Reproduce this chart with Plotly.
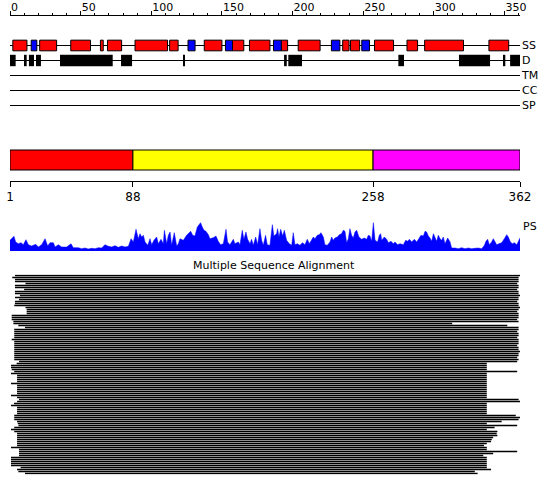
import plotly.graph_objects as go

W, H = 550, 495
def py(y):
    return 1 - y / H

# ---------------- data ----------------
seq_len = 362
ruler_vals = [1, 51, 101, 151, 201, 251, 301, 351]
ruler_text = ["0", "50", "100", "150", "200", "250", "300", "350"]

tracks = ["SS", "D", "TM", "CC", "SP"]

helix_start = [3, 22, 44, 65, 70, 89.5, 114, 138.5, 158.5, 170.5, 193, 205, 236.5, 242, 259, 282, 294.5, 340]
helix_end = [13, 34, 58, 67, 80, 112.5, 120, 151, 166.5, 185, 197.5, 220.5, 241, 248.5, 272.5, 289.5, 322, 354]
strand_start = [16, 127, 153.5, 187.5, 228.5, 250]
strand_end = [20, 132, 158.5, 193, 234.5, 255.5]

dis_start = [1, 11.6, 14.4, 19.4, 36.4, 79.6, 123.5, 195, 198, 275.9, 318.8, 350.2, 355]
dis_end = [5, 12.8, 18, 22.9, 73.7, 87.4, 124.7, 196.9, 207.7, 279.9, 340.8, 351.6, 362]

dom_bounds = [1, 88, 258, 362]
dom_colors = ["#ff0000", "#ffff00", "#ff00ff"]

ps_res = [1.0, 2.2, 3.8, 5.0, 6.9, 8.8, 10.4, 12.3, 14.0, 16.3, 19.2, 21.1, 23.4, 25.8, 27.7, 29.3, 31.7, 32.9, 35.2, 37.6,
          41.1, 44.2, 45.8, 49.4, 51.7, 54.1, 56.4, 58.8, 61.2, 63.5, 65.9, 68.2, 70.6, 73.0, 75.3, 77.7, 80.0, 82.4, 84.8, 86.7,
          88.3, 90.2, 91.8, 93.0, 94.2, 95.4, 96.6, 98.5, 100.1, 101.3, 102.9, 104.8, 106.0, 107.9, 109.5, 110.3, 111.9, 113.1,
          114.3, 115.4, 117.3, 119.0, 120.2,
          121.3, 123.7, 126.0, 127.9, 128.9, 130.3, 131.9, 133.6, 135.0, 135.9, 137.1, 138.3, 139.7, 141.4, 142.5, 144.9, 146.8,
          148.4, 150.1, 152.0, 153.9, 155.0, 156.7, 157.9, 159.1, 160.2, 162.6, 163.8, 165.4, 166.6, 168.0, 169.2, 170.9, 172.0,
          173.2, 174.9, 176.3, 177.9, 179.1, 180.3, 181.9, 183.1, 185.0, 186.7, 187.8, 189.7, 190.4, 191.4, 192.6, 194.0, 195.2,
          196.8, 198.7, 200.4, 201.5, 202.7, 204.4, 206.2, 208.1, 209.8, 211.4, 212.9, 214.5, 215.7, 216.9, 218.5, 219.9, 221.1,
          222.8, 223.9, 225.6, 227.5, 228.7, 229.8, 231.0, 232.7, 234.1, 235.7, 236.9, 238.1, 239.3, 240.5, 241.6, 242.8, 244.0,
          245.2, 246.4, 248.0, 249.9, 251.8, 253.5, 254.6, 255.8, 257.0, 258.2, 259.4, 261.2, 262.4, 263.4, 264.1, 266.0, 267.6,
          268.8, 270.7, 272.3, 273.5, 275.4, 277.1, 279.4, 281.1, 282.5, 283.7, 285.3, 287.2, 288.9, 290.5, 291.9, 293.6, 294.8,
          295.9, 297.1, 298.3, 299.5, 300.7, 301.8, 303.0, 304.2, 305.4, 306.6, 307.7, 308.9, 310.8, 312.5, 313.6, 316.0, 318.3,
          320.7, 323.1, 325.4, 327.8, 330.1, 332.5, 334.9, 336.8, 337.9, 339.1, 340.3, 341.9, 343.1, 344.3, 345.5, 347.1, 349.0,
          350.9, 352.6, 353.7, 355.2, 356.6, 358.0, 359.7, 361.3, 362.0]
ps_val = [10.7, 12.3, 14.7, 9, 7.3, 8.3, 6.3, 11.3, 6.3, 5, 6.7, 4, 6.3, 12.3, 5, 8.3, 8.3, 4, 6.3, 4,
          4, 7.3, 3.3, 3.3, 2.3, 3, 2, 2.7, 2.3, 3.3, 3, 6.3, 4.7, 4, 5.3, 3.7, 5, 4, 4.7, 12.3,
          9, 21.7, 12.3, 17.3, 14, 15.7, 9, 5.7, 12.3, 6.3, 10.7, 14, 7.3, 11.7, 7.3, 20.7, 7.3, 15.7,
          19, 5.7, 18.3, 5, 7.3,
          12.3, 10.7, 15.7, 18.3, 19.7, 15.7, 15, 24, 26.3, 28.3, 24, 20.7, 19.7, 16.3, 12.3, 13.3, 15,
          9.7, 6.3, 7.3, 21.7, 9, 6.3, 9.7, 11.7, 7.3, 9, 6.3, 20.7, 11.7, 19, 11.7, 7.3, 11.7,
          5.7, 14, 6.3, 22.3, 10.7, 5.7, 15.7, 6.3, 5.7, 26.3, 15, 17.3, 22.3, 14, 21.7, 15, 20.7,
          10.7, 7.3, 5.7, 18.3, 6.3, 7.3, 5.7, 8.3, 6.3, 11.7, 7.3, 10.7, 14, 12.3, 15.7, 16.3, 18.3,
          14, 6.3, 5.7, 9, 14, 10.7, 13, 14, 16.3, 17.3, 20.7, 19.7, 8.3, 12.3, 22.3, 15.7, 13,
          19, 20.7, 14, 11.7, 13, 11.7, 15.7, 15, 9.7, 28.3, 10.7, 9, 15.7, 17.3, 10.7, 14, 11.7,
          8.3, 9.7, 7.3, 9, 6.3, 7.3, 6.3, 10.7, 9.7, 11.7, 9, 11.7, 9, 13, 15.7, 15, 19.7,
          19, 15, 13, 9.7, 17.3, 14, 9.7, 15.7, 12.3, 10.7, 14, 7.3, 13, 9, 3, 3, 2.3,
          3.3, 2.3, 3, 2.3, 2.7, 3, 2.3, 5.7, 9.7, 11.7, 6.3, 9, 12.3, 9.7, 6.3, 7.3, 8.3,
          12.3, 16.3, 14, 9, 7.3, 8.3, 6.3, 12.3, 13]

aln_start = [4.5, 2.6, 4.5, 4.5, 12, 4.5, 4.5, 11, 4.5, 4.5,
             8, 4.5, 7.4, 4.5, 4.5, 4, 12, 12.8, 12.8, 12.8,
             2.2, 2.2, 2.2, 3.4, 3.4, 6.9, 11.6, 4, 4, 4,
             4, 4, 2.2, 4, 4, 4, 4, 4, 4, 4,
             4, 4, 4, 7.4, 5.7, 1.7, 1.7, 2.2, 4, 1.7,
             6, 6, 6, 6, 1.7, 6, 6, 6, 6, 6,
             1.7, 6, 7.4, 6, 3.8, 1.7, 6, 6, 6, 6,
             4, 4, 4, 6, 6.5, 7, 4, 1.7, 4, 6,
             6, 6, 6, 6, 6, 6, 1.7, 7.4, 7.4, 7.4,
             7.4, 1.7, 1.7, 1.7, 1.7, 1.7, 8.5, 6, 6.9, 11.6]
aln_end = [362, 361, 361, 361, 360, 361, 361, 360, 361, 361,
           362, 361, 361, 360, 361, 361, 362, 361, 360, 361,
           361, 361, 360, 361, 314, 353, 361, 361, 360, 361,
           361, 360, 361, 361, 361, 360, 361, 361, 362, 361,
           361, 360, 361, 360, 338.5, 338.5, 338.5, 338.5, 360, 338.5,
           338.5, 338.5, 338.5, 338.5, 338.5, 338.5, 338.5, 338.5, 338.5, 338.5,
           338.5, 338.5, 361, 362, 338.5, 338.5, 338.5, 338.5, 338.5, 338.5,
           359, 362, 361, 349, 338.5, 360, 344, 338.5, 346, 345.5,
           346, 343, 342, 341.5, 338.5, 336.5, 338.5, 338.5, 360, 343,
           336, 338.5, 338.5, 338.5, 338.5, 338.5, 338.5, 341.5, 330, 332]

# ---------------- figure ----------------
fig = go.Figure()
ss_i = tracks.index("SS")
d_i = tracks.index("D")

fig.add_trace(go.Bar(orientation="h", y=[ss_i] * len(helix_start), base=helix_start,
                     x=[e - s for s, e in zip(helix_start, helix_end)], width=0.71,
                     marker=dict(color="#ff0000", line=dict(color="black", width=1)),
                     xaxis="x", yaxis="y", hoverinfo="skip"))
fig.add_trace(go.Bar(orientation="h", y=[ss_i] * len(strand_start), base=strand_start,
                     x=[e - s for s, e in zip(strand_start, strand_end)], width=0.71,
                     marker=dict(color="#0000ff", line=dict(color="black", width=1)),
                     xaxis="x", yaxis="y", hoverinfo="skip"))
fig.add_trace(go.Bar(orientation="h", y=[d_i] * len(dis_start), base=dis_start,
                     x=[e - s for s, e in zip(dis_start, dis_end)], width=0.76,
                     marker=dict(color="black", line=dict(color="black", width=0)),
                     xaxis="x", yaxis="y", hoverinfo="skip"))

# domain bar
fig.add_trace(go.Bar(orientation="h", y=[0] * (len(dom_bounds) - 1), base=dom_bounds[:-1],
                     x=[b - a for a, b in zip(dom_bounds[:-1], dom_bounds[1:])], width=1,
                     marker=dict(color=dom_colors, line=dict(color="black", width=1)),
                     xaxis="x2", yaxis="y2", hoverinfo="skip"))

# PS profile
fig.add_trace(go.Scatter(x=ps_res, y=ps_val, mode="lines", fill="tozeroy",
                         line=dict(color="#0000ff", width=0.5), fillcolor="#0000ff",
                         xaxis="x", yaxis="y3", hoverinfo="skip"))

# alignment
ax, ay = [], []
for i, (s, e) in enumerate(zip(aln_start, aln_end)):
    ax += [s, e, None]
    ay += [i, i, None]
fig.add_trace(go.Scatter(x=ax, y=ay, mode="lines", line=dict(color="black", width=1.3),
                         xaxis="x", yaxis="y4", hoverinfo="skip"))

# track baselines
shapes = []
for i, t in enumerate(tracks):
    shapes.append(dict(type="line", xref="x", yref="y", x0=1, x1=seq_len, y0=i, y1=i,
                       line=dict(color="black", width=1), layer="below"))

xd = [10 / W, 520 / W]
fig.update_layout(
    width=W, height=H, autosize=False,
    margin=dict(l=0, r=0, t=0, b=0, pad=0, autoexpand=False),
    paper_bgcolor="white", plot_bgcolor="white", showlegend=False, barmode="overlay",
    font=dict(family="DejaVu Sans", size=11, color="black"),
    shapes=shapes,
    xaxis=dict(domain=xd, range=[1, seq_len], side="top", anchor="free", position=py(15),
               showline=True, linecolor="black", linewidth=1, ticks="outside", ticklen=4,
               tickcolor="black", tickvals=ruler_vals, ticktext=ruler_text,
               ticklabelposition="outside right", automargin=False,
               minor=dict(tick0=1, dtick=10, ticks="outside", ticklen=2, tickcolor="black"),
               showgrid=False, zeroline=False, fixedrange=True),
    yaxis=dict(domain=[py(113), py(38)], range=[4.5, -0.5], anchor="x", side="right",
               tickvals=list(range(len(tracks))), ticktext=tracks, ticks="", automargin=False,
               showline=False, showgrid=False, zeroline=False, ticklabelstandoff=1),
    xaxis2=dict(domain=xd, range=[1, seq_len], anchor="free", position=py(181), side="bottom",
                showline=True, linecolor="black", linewidth=1, ticks="outside", ticklen=5,
                tickcolor="black", tickvals=dom_bounds, ticktext=[str(v) for v in dom_bounds],
                showgrid=False, zeroline=False, tickfont=dict(size=12), automargin=False),
    yaxis2=dict(domain=[py(172), py(148)], range=[-0.6, 0.6], anchor="x2", visible=False),
    yaxis3=dict(domain=[py(251), py(221)], range=[0, 30], anchor="x", visible=False),
    yaxis4=dict(domain=[py(474.5), py(274.5)], range=[99.5, -0.5], anchor="x", visible=False),
    annotations=[
        dict(text="PS", xref="paper", yref="paper", x=521 / W, y=py(226), xanchor="left",
             yanchor="middle", showarrow=False),
        dict(text="Multiple Sequence Alignment", xref="paper", yref="paper", x=274 / W,
             y=py(265), xanchor="center", yanchor="middle", showarrow=False),
    ],
)

fig.write_html("out.html", config={"displayModeBar": False},
               post_script="document.body.style.margin='0';document.body.style.overflow='hidden';")
